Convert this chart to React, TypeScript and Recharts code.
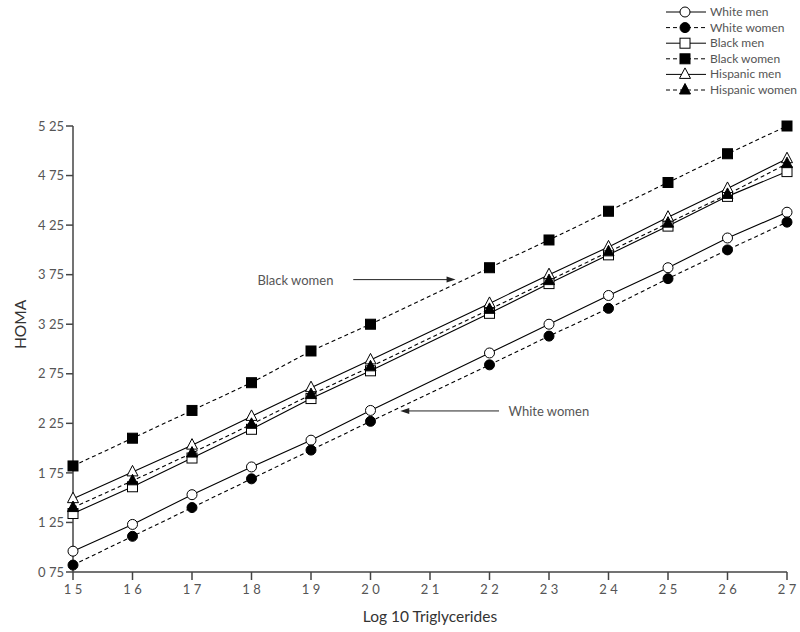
import React from "react";
import {
  LineChart,
  Line,
  XAxis,
  YAxis,
  ReferenceLine,
  ReferenceDot,
} from "recharts";

// log10 triglycerides (no point at 2.1 in the source figure)
const X_VALUES = [1.5, 1.6, 1.7, 1.8, 1.9, 2.0, 2.2, 2.3, 2.4, 2.5, 2.6, 2.7];
const WHITE_MEN = [0.96, 1.23, 1.53, 1.81, 2.08, 2.38, 2.96, 3.25, 3.54, 3.82, 4.12, 4.38];
const WHITE_WOMEN = [0.82, 1.11, 1.4, 1.69, 1.98, 2.27, 2.84, 3.13, 3.41, 3.71, 4.0, 4.28];
const BLACK_MEN = [1.34, 1.61, 1.9, 2.19, 2.5, 2.78, 3.36, 3.66, 3.95, 4.24, 4.54, 4.79];
const BLACK_WOMEN = [1.82, 2.1, 2.38, 2.66, 2.98, 3.25, 3.82, 4.1, 4.39, 4.68, 4.97, 5.25];
const HISP_MEN = [1.49, 1.76, 2.03, 2.32, 2.61, 2.89, 3.46, 3.75, 4.03, 4.33, 4.62, 4.92];
const HISP_WOMEN = [1.4, 1.67, 1.95, 2.24, 2.54, 2.82, 3.4, 3.69, 3.98, 4.27, 4.56, 4.87];

const X_TICKS = [1.5, 1.6, 1.7, 1.8, 1.9, 2.0, 2.1, 2.2, 2.3, 2.4, 2.5, 2.6, 2.7];
const Y_TICKS = [0.75, 1.25, 1.75, 2.25, 2.75, 3.25, 3.75, 4.25, 4.75, 5.25];

type Shape = "circle" | "square" | "triangle";

const SERIES: { key: string; name: string; values: number[]; shape: Shape; filled: boolean; dashed: boolean }[] = [
  { key: "wm", name: "White men", values: WHITE_MEN, shape: "circle", filled: false, dashed: false },
  { key: "ww", name: "White women", values: WHITE_WOMEN, shape: "circle", filled: true, dashed: true },
  { key: "bm", name: "Black men", values: BLACK_MEN, shape: "square", filled: false, dashed: false },
  { key: "bw", name: "Black women", values: BLACK_WOMEN, shape: "square", filled: true, dashed: true },
  { key: "hm", name: "Hispanic men", values: HISP_MEN, shape: "triangle", filled: false, dashed: false },
  { key: "hw", name: "Hispanic women", values: HISP_WOMEN, shape: "triangle", filled: true, dashed: true },
];

const data = X_VALUES.map((x, i) => {
  const row: Record<string, number> = { x };
  SERIES.forEach((s) => (row[s.key] = s.values[i]));
  return row;
});

const FONT = "Lato, 'Open Sans', sans-serif";
const AXIS = "#444";
const TEXT = "#555";

const Marker = ({ cx, cy, shape, filled }: { cx: number; cy: number; shape: Shape; filled: boolean }) => {
  const fill = filled ? "#000" : "#fff";
  if (shape === "circle") return <circle cx={cx} cy={cy} r={5} fill={fill} stroke="#000" strokeWidth={1} />;
  if (shape === "square")
    return <rect x={cx - 5} y={cy - 5} width={10} height={10} fill={fill} stroke="#000" strokeWidth={1} />;
  return (
    <polygon
      points={`${cx},${cy - 6.5} ${cx + 5.5},${cy + 4} ${cx - 5.5},${cy + 4}`}
      fill={fill}
      stroke="#000"
      strokeWidth={1}
    />
  );
};

const fmt = (v: number, d: number) => v.toFixed(d).replace(".", " ");

const Legend = () => (
  <svg width={140} height={100} style={{ position: "absolute", left: 660, top: 0 }}>
    {SERIES.map((s, i) => {
      const y = 12 + i * 15.6;
      return (
        <g key={s.key}>
          <line x1={6} x2={46} y1={y} y2={y} stroke="#000" strokeWidth={1} strokeDasharray={s.dashed ? "4 3" : undefined} />
          <Marker cx={25} cy={y} shape={s.shape} filled={s.filled} />
          <text x={50} y={y + 4} fontSize={12} fill={TEXT} fontFamily={FONT}>
            {s.name}
          </text>
        </g>
      );
    })}
  </svg>
);

const ArrowHead = (dir: 1 | -1) => (props: any) => {
  const { cx, cy } = props;
  return <polygon points={`${cx},${cy} ${cx - dir * 9},${cy - 3} ${cx - dir * 9},${cy + 3}`} fill="#222" />;
};

const Label = (text: string) => (props: any) => (
  <text x={props.cx} y={props.cy + 5} fontSize={13} fill={TEXT} fontFamily={FONT}>
    {text}
  </text>
);

export default function App() {
  return (
    <div style={{ position: "absolute", left: 0, top: 0, width: 800, height: 632, background: "#fff" }}>
      <LineChart width={800} height={632} data={data} margin={{ top: 126, right: 13, bottom: 0, left: 0 }}>
        <XAxis
          dataKey="x"
          type="number"
          domain={[1.5, 2.7]}
          ticks={X_TICKS}
          tickFormatter={(v) => fmt(v, 1)}
          height={60}
          stroke={AXIS}
          strokeWidth={1.5}
          tickSize={8}
          tick={{ fontSize: 13, fill: TEXT, fontFamily: FONT, dy: 3 }}
          label={{ value: "Log 10 Triglycerides", position: "insideBottom", offset: 10, fontSize: 15.5, fill: "#333", fontFamily: FONT }}
        />
        <YAxis
          type="number"
          domain={[0.75, 5.25]}
          ticks={Y_TICKS}
          tickFormatter={(v) => fmt(v, 2)}
          width={73}
          stroke={AXIS}
          strokeWidth={1.5}
          tickSize={7}
          tick={{ fontSize: 13, fill: TEXT, fontFamily: FONT }}
          label={{ value: "HOMA", angle: -90, position: "insideLeft", offset: 20, fontSize: 15.5, fill: "#333", fontFamily: FONT }}
        />
        {SERIES.map((s) => (
          <Line
            key={s.key}
            dataKey={s.key}
            type="linear"
            stroke="#000"
            strokeWidth={1.1}
            strokeDasharray={s.dashed ? "4 3" : undefined}
            isAnimationActive={false}
            dot={(p: any) => <Marker key={`${s.key}-${p.index}`} cx={p.cx} cy={p.cy} shape={s.shape} filled={s.filled} />}
            activeDot={false}
          />
        ))}
        <ReferenceLine segment={[{ x: 1.971, y: 3.7 }, { x: 2.135, y: 3.7 }]} stroke="#222" strokeWidth={1} />
        <ReferenceDot x={2.143} y={3.7} r={0} shape={ArrowHead(1)} />
        <ReferenceDot x={1.81} y={3.7} r={0} shape={Label("Black women")} />
        <ReferenceLine segment={[{ x: 2.058, y: 2.375 }, { x: 2.216, y: 2.375 }]} stroke="#222" strokeWidth={1} />
        <ReferenceDot x={2.05} y={2.375} r={0} shape={ArrowHead(-1)} />
        <ReferenceDot x={2.232} y={2.375} r={0} shape={Label("White women")} />
      </LineChart>
      <Legend />
    </div>
  );
}
